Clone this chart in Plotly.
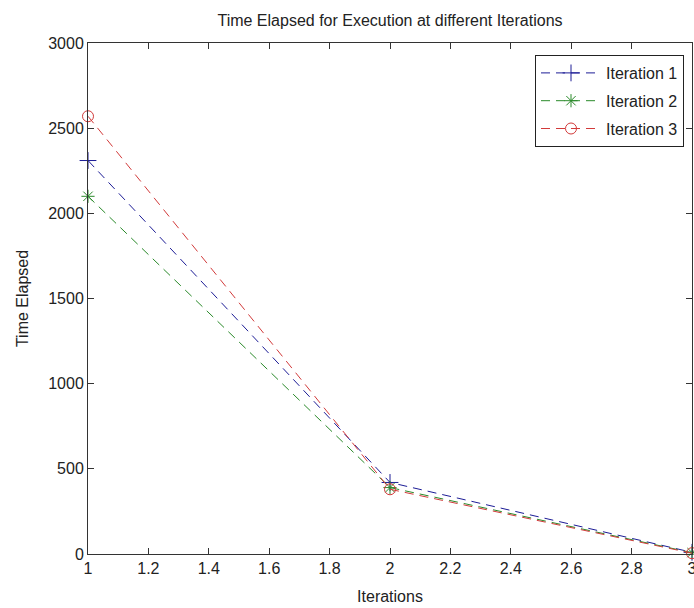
import plotly.graph_objects as go

iterations = [1, 2, 3]
iter1 = [2310, 420, 10]
iter2 = [2100, 390, 8]
iter3 = [2570, 380, 5]
series_names = ["Iteration 1", "Iteration 2", "Iteration 3"]
x_ticks = [1, 1.2, 1.4, 1.6, 1.8, 2, 2.2, 2.4, 2.6, 2.8, 3]
x_tick_labels = ["1", "1.2", "1.4", "1.6", "1.8", "2", "2.2", "2.4", "2.6", "2.8", "3"]
y_ticks = [0, 500, 1000, 1500, 2000, 2500, 3000]

FONT = "Liberation Sans, Arial, sans-serif"
FS = 16
colors = ["#1c1c96", "#2a8a2a", "#d23a3a"]
symbols = ["cross-thin-open", "asterisk-open", "circle-open"]
sizes = [12, 11, 11]

fig = go.Figure()
for i, (name, vals, c, s, sz) in enumerate(zip(series_names, [iter1, iter2, iter3], colors, symbols, sizes)):
    fig.add_trace(go.Scatter(
        x=iterations, y=vals, mode="lines+markers", name=name, legendgroup=f"g{i}",
        line=dict(color=c, width=1, dash="9px,6px"),
        marker=dict(symbol=s, size=sz, color=c, line=dict(color=c, width=1)),
        cliponaxis=False,
    ))

axis_common = dict(
    showline=True, linecolor="#333333", linewidth=1, mirror="allticks",
    ticks="inside", ticklen=6, tickcolor="#333333", showgrid=False, zeroline=False,
    automargin=False, ticklabeloverflow="allow",
    tickfont=dict(family=FONT, size=FS, color="#222222"),
)

fig.update_layout(
    width=694, height=608,
    margin=dict(l=88, r=2, t=43, b=54, autoexpand=False),
    paper_bgcolor="white", plot_bgcolor="white",
    title=dict(text="Time Elapsed for Execution at different Iterations",
               x=(88 + 692) / 2 / 694, xanchor="center", y=1 - 20 / 608, yanchor="middle",
               font=dict(family=FONT, size=FS, color="#222222")),
    xaxis=dict(range=[1, 3], tickvals=x_ticks, ticktext=x_tick_labels,
               title=dict(text="Iterations", standoff=14,
                          font=dict(family=FONT, size=FS, color="#222222")),
               **axis_common),
    yaxis=dict(range=[0, 3000], tickvals=y_ticks,
               title=dict(text="Time Elapsed", standoff=15,
                          font=dict(family=FONT, size=FS, color="#222222")),
               **axis_common),
    legend=dict(x=(684 - 88) / 604, y=(554 - 55) / 511, xanchor="right", yanchor="top",
                bgcolor="white", bordercolor="#222222", borderwidth=1,
                font=dict(family=FONT, size=FS, color="#222222"),
                itemwidth=60, tracegroupgap=4),
    showlegend=True,
)

fig.write_html("out.html", config={"displayModeBar": False},
               post_script="document.body.style.margin='0';document.body.style.overflow='hidden';")
